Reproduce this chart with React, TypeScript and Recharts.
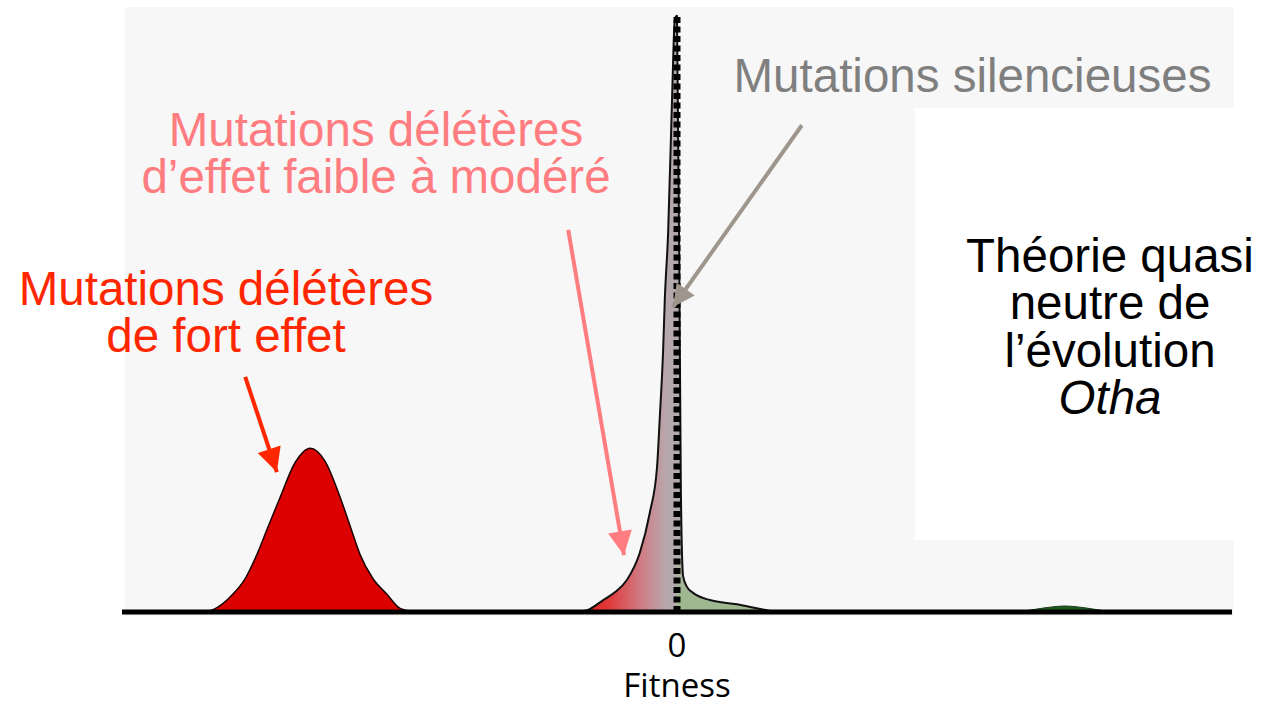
import React from "react";
import {
  ComposedChart,
  Area,
  XAxis,
  YAxis,
  ReferenceLine,
} from "recharts";

// Fitness values (x) and density (y, 0-100)
const strongX = [-0.859, -0.836, -0.8, -0.778, -0.757, -0.737, -0.715, -0.688, -0.661, -0.634, -0.607, -0.589, -0.571, -0.548, -0.523, -0.499, -0.472];
const strongY = [0, 0.4, 3.0, 5.6, 9.6, 14.2, 19.2, 25.0, 27.4, 25.2, 19.2, 14.4, 9.6, 5.6, 3.0, 0.6, 0];

const weakX = [-0.184, -0.162, -0.133, -0.112, -0.09, -0.067, -0.049, -0.036, -0.031, -0.025, -0.022, -0.016, -0.009, -0.004, 0];
const weakY = [0, 0.3, 2.0, 3.3, 5.4, 9.9, 16.6, 24.2, 32.6, 43.8, 52.2, 63.4, 85.6, 99.0, 99.8];

const positiveX = [0, 0.004, 0.007, 0.011, 0.018, 0.029, 0.059, 0.108, 0.15, 0.177];
const positiveY = [99.8, 60, 20, 6.0, 4.2, 3.2, 2.0, 1.3, 0.5, 0];

const beneficialX = [0.6, 0.627, 0.663, 0.699, 0.735, 0.771, 0.798];
const beneficialY = [0, 0.2, 0.7, 1.0, 0.7, 0.2, 0];

const fitnessTicks = [0];

function buildRows() {
  const rows = new Map<number, Record<string, number>>();
  const add = (key: string, xs: number[], ys: number[]) => {
    xs.forEach((x, i) => {
      const row = rows.get(x) ?? { x };
      row[key] = ys[i];
      rows.set(x, row);
    });
  };
  add("strong", strongX, strongY);
  add("weak", weakX, weakY);
  add("positive", positiveX, positiveY);
  add("beneficial", beneficialX, beneficialY);
  return [...rows.values()].sort((a, b) => a.x - b.x);
}

const data = buildRows();

const textFont = "'Liberation Sans', Arial, sans-serif";

const ZeroTick = ({ x, y, payload }: any) => (
  <text
    x={x}
    y={y}
    dy={45}
    textAnchor="middle"
    fontFamily="'Open Sans', sans-serif"
    fontSize={33}
    fill="#000"
  >
    {payload.value}
  </text>
);

function Note({
  lines,
  color,
  top,
  center,
  italicLast,
}: {
  lines: string[];
  color: string;
  top: number;
  center: number;
  italicLast?: boolean;
}) {
  return (
    <div
      style={{
        position: "absolute",
        top,
        left: center - 250,
        width: 500,
        textAlign: "center",
        fontFamily: textFont,
        fontSize: 47.5,
        lineHeight: "47.5px",
        color,
        whiteSpace: "pre",
        pointerEvents: "none",
      }}
    >
      {lines.map((l, i) => (
        <div
          key={i}
          style={{
            fontStyle: italicLast && i === lines.length - 1 ? "italic" : "normal",
          }}
        >
          {l}
        </div>
      ))}
    </div>
  );
}

export default function App() {
  return (
    <div
      style={{
        position: "absolute",
        left: 0,
        top: 0,
        width: 1266,
        height: 707,
        background: "#fff",
        overflow: "hidden",
      }}
    >
      {/* slide backdrop */}
      <div
        style={{
          position: "absolute",
          left: 125,
          top: 7,
          width: 1109,
          height: 609,
          background: "#f7f7f7",
        }}
      />
      <div
        style={{
          position: "absolute",
          left: 915,
          top: 108,
          width: 351,
          height: 432,
          background: "#fff",
        }}
      />

      <div style={{ position: "absolute", left: 0, top: 0 }}>
        <ComposedChart
          width={1266}
          height={707}
          data={data}
          margin={{ top: 14, right: 34, bottom: 5, left: 122 }}
        >
          <defs>
            <linearGradient id="weakFill" x1="0" y1="0" x2="1" y2="0">
              <stop offset="0%" stopColor="#e81c1c" />
              <stop offset="30%" stopColor="#e23434" />
              <stop offset="65%" stopColor="#cf7c84" />
              <stop offset="90%" stopColor="#b6a9ad" />
              <stop offset="100%" stopColor="#b2a8ab" />
            </linearGradient>
            <linearGradient id="posFill" x1="0" y1="0" x2="0" y2="1">
              <stop offset="0%" stopColor="#b2aaad" />
              <stop offset="90%" stopColor="#b0aeaa" />
              <stop offset="97%" stopColor="#9fb890" />
              <stop offset="100%" stopColor="#9fb890" />
            </linearGradient>
            <marker
              id="headGray"
              viewBox="0 0 10 10"
              refX="10"
              refY="5"
              markerWidth="26"
              markerHeight="22"
              markerUnits="userSpaceOnUse"
              orient="auto"
            >
              <path d="M0,0 L10,5 L0,10 z" fill="#9e968d" />
            </marker>
            <marker
              id="headPink"
              viewBox="0 0 10 10"
              refX="10"
              refY="5"
              markerWidth="26"
              markerHeight="24"
              markerUnits="userSpaceOnUse"
              orient="auto"
            >
              <path d="M0,0 L10,5 L0,10 z" fill="#ff7c80" />
            </marker>
            <marker
              id="headRed"
              viewBox="0 0 10 10"
              refX="10"
              refY="5"
              markerWidth="26"
              markerHeight="24"
              markerUnits="userSpaceOnUse"
              orient="auto"
            >
              <path d="M0,0 L10,5 L0,10 z" fill="#ff2600" />
            </marker>
          </defs>

          <YAxis hide type="number" domain={[0, 100]} allowDataOverflow />

          <Area
            type="monotone"
            dataKey="strong"
            stroke="#1a0000"
            strokeWidth={1.5}
            fill="#dd0000"
            fillOpacity={1}
            isAnimationActive={false}
            dot={false}
            activeDot={false}
          />
          <Area
            type="monotone"
            dataKey="weak"
            stroke="#111"
            strokeWidth={2}
            fill="url(#weakFill)"
            fillOpacity={1}
            isAnimationActive={false}
            dot={false}
            activeDot={false}
          />
          <Area
            type="monotone"
            dataKey="positive"
            stroke="#111"
            strokeWidth={2}
            fill="url(#posFill)"
            fillOpacity={1}
            isAnimationActive={false}
            dot={false}
            activeDot={false}
          />
          <Area
            type="monotone"
            dataKey="beneficial"
            stroke="#1d3d1d"
            strokeWidth={1}
            fill="#1f5a1f"
            fillOpacity={1}
            isAnimationActive={false}
            dot={false}
            activeDot={false}
          />

          <ReferenceLine
            x={0}
            stroke="#000"
            strokeWidth={7}
            strokeDasharray="6 3.5"
          />

          <XAxis
            type="number"
            dataKey="x"
            domain={[-1, 1]}
            ticks={fitnessTicks}
            tick={<ZeroTick />}
            tickLine={false}
            tickSize={0}
            tickMargin={0}
            height={90}
            axisLine={{ stroke: "#000", strokeWidth: 5 }}
            label={{
              value: "Fitness",
              position: "insideBottom",
              offset: 5,
              fill: "#000",
              fontSize: 33,
              fontFamily: "'Open Sans', sans-serif",
            }}
          />

          <ReferenceLine
            segment={[
              { x: 0.225, y: 81.4 },
              { x: -0.0072, y: 51.0 },
            ]}
            stroke="#9e968d"
            strokeWidth={4}
            markerEnd="url(#headGray)"
          />
          <ReferenceLine
            segment={[
              { x: -0.196, y: 63.9 },
              { x: -0.0955, y: 9.5 },
            ]}
            stroke="#ff7c80"
            strokeWidth={4}
            markerEnd="url(#headPink)"
          />
          <ReferenceLine
            segment={[
              { x: -0.778, y: 39.3 },
              { x: -0.721, y: 23.4 },
            ]}
            stroke="#ff2600"
            strokeWidth={4}
            markerEnd="url(#headRed)"
          />
        </ComposedChart>
      </div>

      <Note lines={["Mutations silencieuses"]} color="#7f7f7f" top={52} center={972.5} />
      <Note
        lines={["Mutations délétères", "d’effet faible à modéré"]}
        color="#ff7c80"
        top={105.5}
        center={376}
      />
      <Note
        lines={["Mutations délétères", "de fort effet"]}
        color="#ff2600"
        top={264.5}
        center={226}
      />
      <Note
        lines={["Théorie quasi", "neutre de", "l’évolution", "Otha"]}
        color="#000"
        top={231.5}
        center={1110}
        italicLast
      />
    </div>
  );
}
